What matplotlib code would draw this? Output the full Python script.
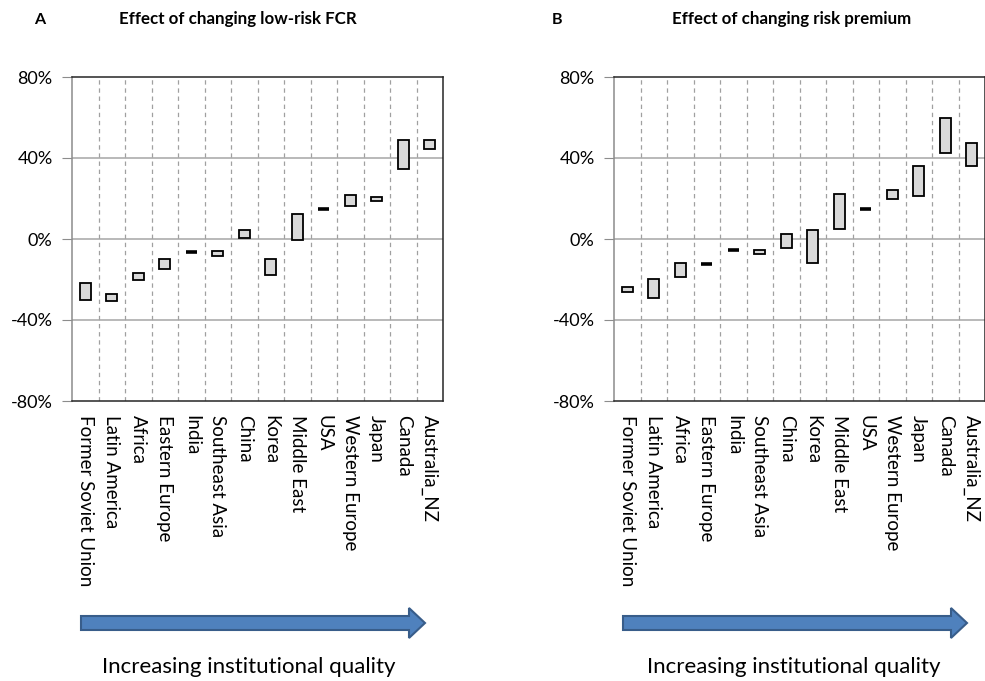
import numpy as np
import matplotlib
matplotlib.use("Agg")
import matplotlib.pyplot as plt
from matplotlib.patches import FancyArrow

plt.rcParams['font.family'] = ['Lato', 'DejaVu Sans']

regions = ["Former Soviet Union", "Latin America", "Africa", "Eastern Europe",
           "India", "Southeast Asia", "China", "Korea", "Middle East", "USA",
           "Western Europe", "Japan", "Canada", "Australia_NZ"]

# panel A: effect of changing low-risk FCR (low / high, %)
fcr_lo = [-30.0, -30.6, -20.2, -15.0, -6.3, -8.4, 0.7, -17.6, -0.7, 14.8, 16.3, 18.9, 34.6, 44.4]
fcr_hi = [-21.6, -27.3, -17.0, -9.7, -6.3, -5.8, 4.6, -9.7, 12.5, 14.8, 21.6, 20.9, 48.9, 48.9]

# panel B: effect of changing risk premium (low / high, %)
rp_lo = [-26.3, -28.9, -19.0, -12.1, -5.6, -7.3, -4.6, -11.9, 5.1, 14.7, 19.7, 21.0, 42.5, 36.0]
rp_hi = [-23.7, -19.7, -11.7, -12.1, -5.6, -5.3, 2.6, 4.6, 22.3, 14.7, 24.3, 36.0, 59.7, 47.3]

yticks = [-80, -40, 0, 40, 80]

W, H = 985, 681
fig = plt.figure(figsize=(W / 100, H / 100), dpi=100)


def panel(left_px, lo, hi):
    ax = fig.add_axes([left_px / W, 1 - 401 / H, 371 / W, 324 / H])
    x = np.arange(1, len(regions) + 1)
    lo = np.array(lo)
    hi = np.array(hi)
    ax.bar(x, hi - lo, bottom=lo, width=0.42, color='#d9d9d9',
           edgecolor='black', linewidth=1.3, zorder=3)
    # ranges that collapse to a single value drawn as a thick dash
    flat = hi == lo
    ax.hlines(lo[flat], x[flat] - 0.21, x[flat] + 0.21, color='black', lw=2.6, zorder=4)
    ax.set_xlim(0.5, len(regions) + 0.5)
    ax.set_ylim(-80, 80)
    for b in np.arange(1.5, len(regions), 1):
        ax.axvline(b, color='#a0a0a0', lw=0.9, ls=(0, (3.5, 3)), zorder=1)
    for yv in [-40, 0, 40]:
        ax.axhline(yv, color='#a6a6a6', lw=1.1, zorder=2)
    ax.set_yticks(yticks)
    ax.set_yticklabels([f"{v}%" for v in yticks], fontsize=13)
    ax.tick_params(axis='y', length=7, color='#8c8c8c', direction='out', pad=7)
    ax.set_xticks(x)
    ax.set_xticklabels(regions, rotation=-90, fontsize=13.5, va='top', ha='center')
    ax.tick_params(axis='x', length=0, pad=10)
    ax.spines['left'].set_color('#8c8c8c')
    for s in ['top', 'right', 'bottom']:
        ax.spines[s].set_color('#262626')
    for s in ax.spines.values():
        s.set_linewidth(1.1)
    return ax


panel(72, fcr_lo, fcr_hi)
panel(614, rp_lo, rp_hi)

# titles
fig.text(40 / W, 1 - 20 / H, "A", fontsize=11.5, fontweight='bold', va='center', ha='center')
fig.text(119 / W, 1 - 19 / H, "Effect of changing low-risk FCR", fontsize=12.2,
         fontweight='bold', va='center', ha='left')
fig.text(557 / W, 1 - 20 / H, "B", fontsize=11.5, fontweight='bold', va='center', ha='center')
fig.text(672 / W, 1 - 19 / H, "Effect of changing risk premium", fontsize=12.2,
         fontweight='bold', va='center', ha='left')

# arrows + captions
for x0, x1, xc in [(81, 425, 249), (623, 967, 794)]:
    arr = FancyArrow(x0 / 100, (H - 623) / 100, (x1 - x0) / 100, 0,
                     width=0.14, head_width=0.30, head_length=0.16,
                     length_includes_head=True, transform=fig.dpi_scale_trans,
                     facecolor='#4f81bd', edgecolor='#385d8a', linewidth=1.5)
    fig.add_artist(arr)
    fig.text(xc / W, 1 - 667 / H, "Increasing institutional quality", fontsize=16,
             ha='center', va='center')

fig.savefig("out.png", dpi=100)
